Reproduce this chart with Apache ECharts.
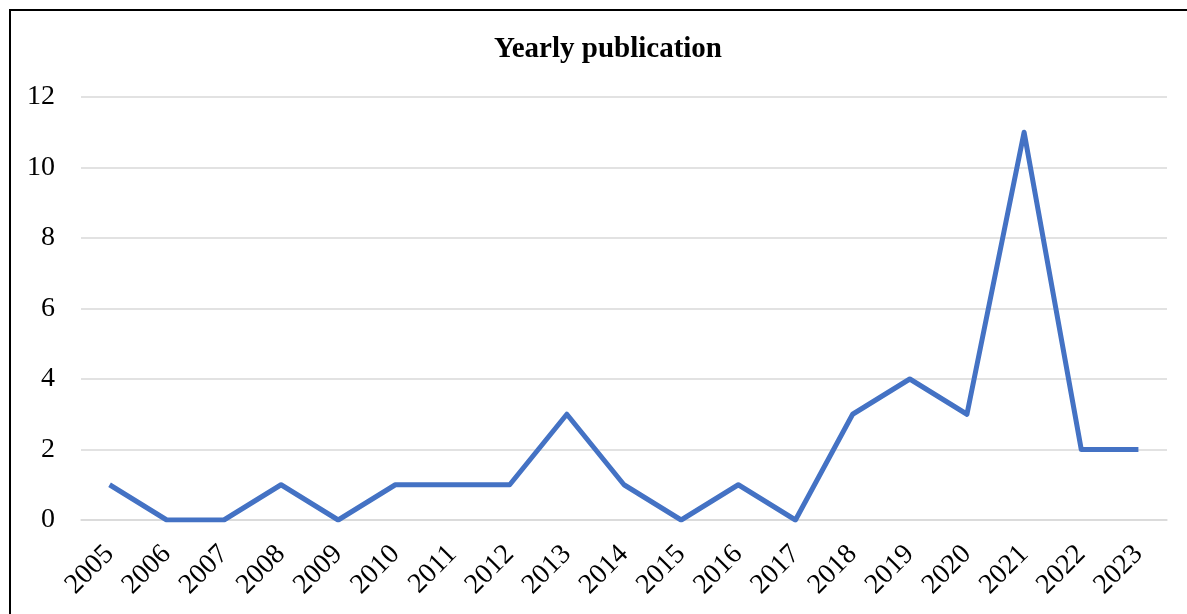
<!DOCTYPE html>
<html>
<head>
<meta charset="utf-8">
<script src="https://cdn.jsdelivr.net/npm/echarts@6/dist/echarts.min.js"></script>
<style>
  html, body { margin: 0; padding: 0; background: #fff; overflow: hidden; }
  #chart { width: 1187px; height: 614px; }
</style>
</head>
<body>
<div id="chart"></div>
<script>
  // years on the x axis
  const years = ['2005', '2006', '2007', '2008', '2009', '2010', '2011', '2012', '2013', '2014',
                 '2015', '2016', '2017', '2018', '2019', '2020', '2021', '2022', '2023'];
  // publications per year
  const publications = [1, 0, 0, 1, 0, 1, 1, 1, 3, 1, 0, 1, 0, 3, 4, 3, 11, 2, 2];

  const chart = echarts.init(document.getElementById('chart'));

  const font = '"Liberation Serif", "Times New Roman", serif';

  chart.setOption({
    backgroundColor: '#fff',
    animation: false,
    title: {
      text: 'Yearly publication',
      left: 489,
      top: 30,
      textStyle: { fontFamily: font, fontWeight: 'bold', fontSize: 29, color: '#000' }
    },
    graphic: [{
      type: 'rect',
      shape: { x: 10, y: 10, width: 1300, height: 700 },
      style: { fill: 'none', stroke: '#000', lineWidth: 2 },
      silent: true
    }],
    grid: { left: 81, right: 20, top: 97, bottom: 94 },
    xAxis: {
      type: 'category',
      data: years,
      boundaryGap: true,
      axisLine: { lineStyle: { color: '#d9d9d9', width: 1.5 } },
      axisTick: { show: false },
      axisLabel: { rotate: 45, margin: 30, fontFamily: font, fontSize: 28, color: '#000', interval: 0 }
    },
    yAxis: {
      type: 'value',
      min: 0,
      max: 12,
      interval: 2,
      axisLine: { show: false },
      axisTick: { show: false },
      splitLine: { lineStyle: { color: '#d9d9d9', width: 1.5 } },
      axisLabel: { margin: 26, fontFamily: font, fontSize: 28, color: '#000' }
    },
    series: [{
      type: 'line',
      data: publications,
      showSymbol: false,
      lineStyle: { color: '#4472c4', width: 5, join: 'round' },
      itemStyle: { color: '#4472c4' }
    }]
  });
</script>
</body>
</html>
